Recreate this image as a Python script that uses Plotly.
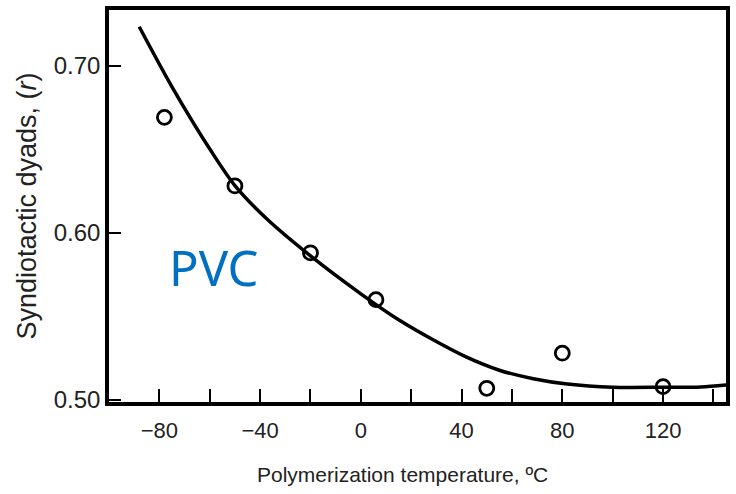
import plotly.graph_objects as go

# Measured data points (open circles)
temp_points = [-78, -50, -20, 6, 50, 80, 120]
r_points = [0.669, 0.628, 0.588, 0.560, 0.507, 0.528, 0.508]

# Fitted curve
temp_curve = [-88, -75, -59, -50, -37.5, -19.6, 0, 15.5, 28.7, 42, 55, 68.5,
              82, 100, 120, 135, 145]
r_curve = [0.7232, 0.6873, 0.6478, 0.6282, 0.6085, 0.5857, 0.5635, 0.5475,
           0.5360, 0.5256, 0.5178, 0.5127, 0.5095, 0.5076, 0.5076, 0.5078,
           0.5090]

x_ticks = [-80, -40, 0, 40, 80, 120]
x_minor = [-60, -20, 20, 60, 100, 140]
y_ticks = [0.50, 0.60, 0.70]
y_tick_text = ["0.50", "0.60", "0.70"]

fig = go.Figure()
fig.add_trace(go.Scatter(
    x=temp_curve, y=r_curve, mode="lines",
    line=dict(color="black", width=3.5, shape="spline", smoothing=0.8),
    hoverinfo="skip", showlegend=False))
fig.add_trace(go.Scatter(
    x=temp_points, y=r_points, mode="markers",
    marker=dict(symbol="circle-open", size=14, color="black",
                line=dict(color="black", width=2.8)),
    showlegend=False))

fig.add_annotation(x=-58.5, y=0.5795, xref="x", yref="y", text="PVC",
                   showarrow=False,
                   font=dict(family="Noto Sans", size=49, color="#0070C0"))

# x-axis title (placed slightly left of the plot centre, as in the original)
fig.add_annotation(x=(402 - 109) / 617, y=-0.186, xref="paper", yref="paper",
                   text="Polymerization temperature, ºC", showarrow=False,
                   font=dict(size=21, color="#222"), yanchor="middle")

fig.update_layout(
    width=736, height=494,
    margin=dict(l=109, r=10, t=10, b=92),
    paper_bgcolor="white", plot_bgcolor="white",
    font=dict(family="Liberation Sans, Arial, sans-serif", color="#222"),
    xaxis=dict(
        range=[-100, 145], tickmode="array", tickvals=x_ticks,
        ticks="inside", ticklen=13, tickwidth=2, tickcolor="black",
        minor=dict(tickmode="array", tickvals=x_minor,
                   ticks="inside", ticklen=13, tickwidth=2,
                   tickcolor="black", showgrid=False),
        showline=True, linecolor="black", linewidth=3.5, mirror=True,
        showgrid=False, zeroline=False, automargin=False,
        ticklabelstandoff=6,
        tickfont=dict(size=22, color="#222"),
    ),
    yaxis=dict(
        range=[0.4988, 0.7332], tickmode="array", tickvals=y_ticks,
        ticktext=y_tick_text,
        ticks="inside", ticklen=12, tickwidth=2, tickcolor="black",
        showline=True, linecolor="black", linewidth=3.5, mirror=True,
        showgrid=False, zeroline=False, automargin=False,
        tickfont=dict(size=24, color="#222"),
        title=dict(text="Syndiotactic dyads, (<i>r</i>)",
                   font=dict(size=27, color="#222"), standoff=10),
    ),
)

fig.write_html("out.html",
               config={"displayModeBar": False},
               post_script="document.body.style.margin='0';"
                           "document.body.style.padding='0';")
